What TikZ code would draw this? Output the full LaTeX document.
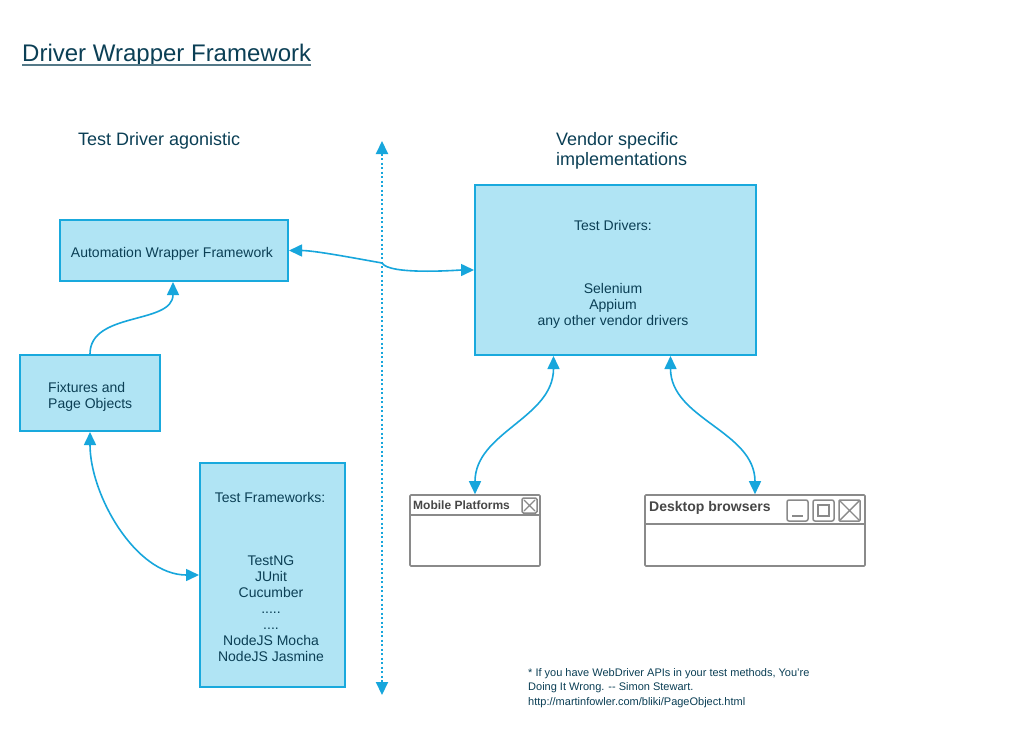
\documentclass[tikz,border=0pt]{standalone}
\usepackage{fontspec}
\setmainfont{Liberation Sans}
\usetikzlibrary{arrows.meta,calc}
\definecolor{txt}{HTML}{0B3F55}
\definecolor{boxfill}{HTML}{B0E4F4}
\definecolor{boxline}{HTML}{19A9DD}
\definecolor{arr}{HTML}{17A6DC}
\definecolor{win}{HTML}{8A8A8A}
\definecolor{wintxt}{HTML}{474747}
\tikzset{
  bluebox/.style={draw=boxline,fill=boxfill,line width=2pt,inner sep=0pt},
  winbox/.style={draw=win,fill=white,line width=1.6pt,rounded corners=1pt,inner sep=0pt},
  tip/.style={-{Triangle[length=13pt,width=12pt]}},
  dbltip/.style={{Triangle[length=13pt,width=12pt]}-{Triangle[length=13pt,width=12pt]}},
  conn/.style={draw=arr,line width=1.6pt},
  btxt/.style={text=txt,font=\fontsize{14}{16}\selectfont,align=center,inner sep=0pt},
  head/.style={text=txt,font=\fontsize{18}{20}\selectfont,inner sep=0pt},
  wtitle/.style={text=wintxt,inner sep=0pt,anchor=west},
  icon/.style={draw=win,line width=1.5pt,rounded corners=2pt}
}
\begin{document}
\begin{tikzpicture}[x=1pt,y=-1pt]
\useasboundingbox[fill=white] (0,0) rectangle (1030,728);
% title
\node[anchor=base west,text=txt,font=\fontsize{24}{28}\selectfont,inner sep=0pt] (title) at (22,61) {Driver Wrapper Framework};
\draw[txt!70,line width=1.2pt] ([yshift=-4pt]title.base west) -- ([yshift=-4pt]title.base east);
% headings
\node[head,anchor=base west] (h1) at (78,145) {Test Driver agonistic};
\node[head,anchor=base west,align=left] (h2) at (556,165) {Vendor specific\\implementations};
% boxes
\node[bluebox,minimum width=228pt,minimum height=61pt] (awf) at (174,250.5) {};
\node[btxt] (awft) at (172,253.5) {Automation Wrapper Framework};
\node[bluebox,minimum width=140pt,minimum height=76pt] (fix) at (90,393) {};
\node[btxt,align=left,anchor=west] (fixt) at (48,397) {Fixtures and\\Page Objects};
\node[bluebox,minimum width=145pt,minimum height=224pt] (tf) at (272.5,575) {};
\node[btxt] (tft) at (270,497) {Test Frameworks:};
\node[btxt,anchor=north] (tfl) at (271,556) {TestNG\\JUnit\\Cucumber\\.....\\....\\NodeJS Mocha\\NodeJS Jasmine};
\node[bluebox,minimum width=281pt,minimum height=170pt] (td) at (615.5,270) {};
\node[btxt] (tdt) at (613,225) {Test Drivers:};
\node[btxt,anchor=north] (tdl) at (613,283) {Selenium\\Appium\\any other vendor drivers};
% windows
\node[winbox,minimum width=130pt,minimum height=71pt] (mob) at (475,530.5) {};
\draw[win,line width=1.6pt] (411,515) -- (539,515);
\node[wtitle,font=\bfseries\fontsize{12}{14}\selectfont] (mobt) at (413,505) {Mobile Platforms};
\draw[icon,rounded corners=1.5pt] (522,498) rectangle (537,513);
\draw[win,line width=1.3pt] (524,500) -- (535,511) (535,500) -- (524,511);
\node[winbox,minimum width=220pt,minimum height=71pt] (desk) at (755,530.5) {};
\draw[win,line width=1.6pt] (646,524) -- (864,524);
\node[wtitle,font=\bfseries\fontsize{14}{16}\selectfont] (deskt) at (649,508) {Desktop browsers};
\draw[icon] (787,500) rectangle (808,521);
\draw[win,line width=1.5pt] (792,516) -- (803,516);
\draw[icon] (813,500) rectangle (834,521);
\draw[win,line width=1.4pt] (818,505) rectangle (829,516);
\draw[icon,rounded corners=1pt] (839,500) rectangle (860,521);
\draw[win,line width=1.4pt] (840,501) -- (859,520) (859,501) -- (840,520);
% dotted divider
\coordinate (dtop) at (382,141);
\coordinate (dbot) at (382,695);
\draw[arr,line width=2pt,dash pattern=on 2pt off 2.5pt,dbltip] (dtop) -- (dbot);
% connectors
\coordinate (cross) at (382,263);
\draw[conn,tip] (fix.north) to[out=90,in=-90] ([xshift=-1pt]awf.south);
\draw[conn,dbltip] (fix.south) to[out=-90,in=180,looseness=0.9] (tf.west);
\draw[conn,dbltip] (awf.east) to[out=0,in=170,looseness=0.7] (cross) to[out=-60,in=180,looseness=0.4] (td.west);
\draw[conn,dbltip] ([xshift=-62pt]td.south) to[out=-90,in=90] (mob.north);
\draw[conn,dbltip] ([xshift=55pt]td.south) to[out=-90,in=90] (desk.north);
% footnote
\node[text=txt,font=\fontsize{11}{14.5}\selectfont,align=left,anchor=north west,inner sep=0pt] (note) at (528,668) {* If you have WebDriver APIs in your test methods, You're\\Doing It Wrong. -{}- Simon Stewart.\\http://martinfowler.com/bliki/PageObject.html};
\end{tikzpicture}
\end{document}
